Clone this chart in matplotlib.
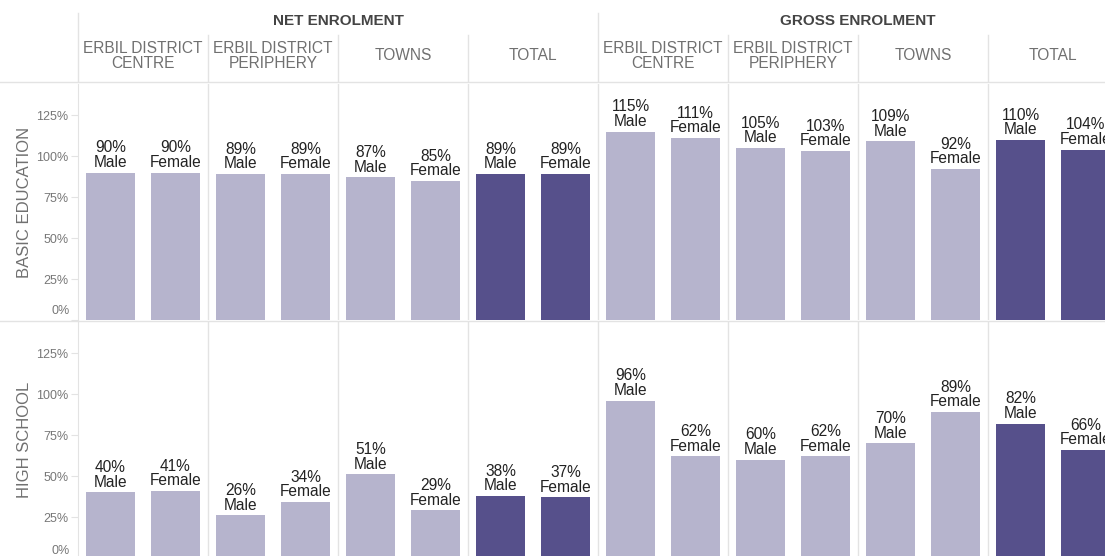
import matplotlib.pyplot as plt
import numpy as np
from matplotlib.lines import Line2D
from matplotlib.transforms import ScaledTranslation

plt.rcParams['font.family'] = ['Liberation Sans', 'DejaVu Sans']

# data
groups = ["NET ENROLMENT", "GROSS ENROLMENT"]
areas = ["ERBIL DISTRICT\nCENTRE", "ERBIL DISTRICT\nPERIPHERY", "TOWNS", "TOTAL"]
genders = ["Male", "Female"]
rows = ["BASIC EDUCATION", "HIGH SCHOOL"]

basic_net_male = [90, 89, 87, 89]
basic_net_female = [90, 89, 85, 89]
basic_gross_male = [115, 105, 109, 110]
basic_gross_female = [111, 103, 92, 104]
high_net_male = [40, 26, 51, 38]
high_net_female = [41, 34, 29, 37]
high_gross_male = [96, 60, 70, 82]
high_gross_female = [62, 62, 89, 66]

yticks = [0, 25, 50, 75, 100, 125]

light = "#b6b4cd"
dark = "#56508b"
grid_c = "#e3e3e3"

W, H = 1105, 556
fig = plt.figure(figsize=(W / 100, H / 100), dpi=100)


def px_axes(l, t, r, b):
    return fig.add_axes([l / W, 1 - b / H, (r - l) / W, (b - t) / H])


def hline(y, x0=0, x1=W):
    fig.add_artist(Line2D([x0 / W, x1 / W], [1 - y / H, 1 - y / H],
                          color=grid_c, lw=1, transform=fig.transFigure))


panel_px = 130
left_px = 78
n_panels = 8

# header
hax = px_axes(0, 0, left_px + n_panels * panel_px, 82)
hax.set_xlim(-left_px / panel_px, n_panels)
hax.set_ylim(82, 0)
hax.axis("off")
for g, name in enumerate(groups):
    hax.text(g * 4 + 2, 21, name, ha="center", va="center", fontsize=11,
             fontweight="bold", color="#444444")
    for a, area in enumerate(areas):
        hax.text(g * 4 + a + 0.5, 56, area, ha="center", va="center",
                 fontsize=11.2, color="#707070", linespacing=1.0)
for k in range(n_panels):
    top = 13 if k in (0, 4) else 35
    hax.plot([k, k], [top, 82], color=grid_c, lw=1)

hline(82)

row_vals = [
    (basic_net_male + basic_gross_male, basic_net_female + basic_gross_female),
    (high_net_male + high_gross_male, high_net_female + high_gross_female),
]
row_px = [(84, 320), (322, 558)]

for r, (males, females) in enumerate(row_vals):
    t, b = row_px[r]
    ax = px_axes(left_px, t, left_px + n_panels * panel_px, b)
    x = np.arange(n_panels)
    for gi, vals in enumerate((males, females)):
        xpos = x + 0.25 + 0.5 * gi
        colors = [dark if (k % 4 == 3) else light for k in range(n_panels)]
        bars = ax.bar(xpos, vals, width=0.37, color=colors, zorder=2)
        for bar, v in zip(bars, vals):
            ax.annotate(f"{v}%\n{genders[gi]}",
                        (bar.get_x() + bar.get_width() / 2, v),
                        xytext=(0, 2), textcoords="offset points",
                        ha="center", va="bottom", fontsize=11.2,
                        color="#222222", linespacing=0.95)
    ax.set_xlim(0, n_panels)
    ax.set_ylim(0, 144)
    ax.set_yticks(yticks)
    ax.set_yticklabels(["" if v == 0 else f"{v}%" for v in yticks])
    ax.set_xticks([])
    for k in range(1, n_panels):
        ax.axvline(k, color=grid_c, lw=1, zorder=1)
    for s in ("top", "right", "bottom"):
        ax.spines[s].set_visible(False)
    ax.spines["left"].set_color(grid_c)
    ax.tick_params(axis="y", length=5, color=grid_c, labelsize=9,
                   labelcolor="#777777", pad=2)
    # the 0% label sits a little above the baseline, as in the original
    zero_tr = ax.get_yaxis_transform() + ScaledTranslation(-8 / 100, 0.09 if r == 0 else 0.07, fig.dpi_scale_trans)
    ax.text(0, 0, "0%", transform=zero_tr, ha="right", va="center",
            fontsize=9, color="#777777")
    ax.set_ylabel(rows[r], fontsize=12, color="#707070")
    ax.yaxis.set_label_coords(-46 / (n_panels * panel_px), 0.5)

hline(321)

fig.savefig("out.png", dpi=100)
